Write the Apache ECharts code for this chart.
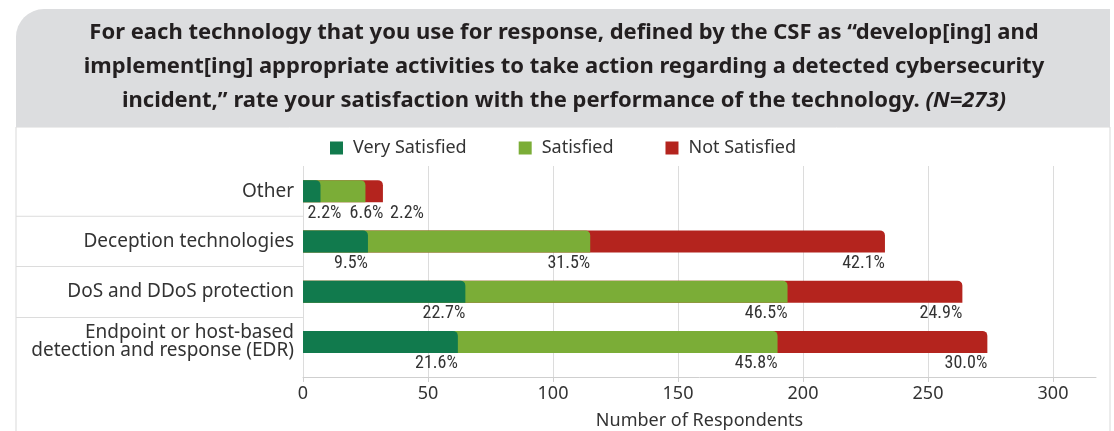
<!DOCTYPE html>
<html>
<head>
<meta charset="utf-8">
<script src="https://cdn.jsdelivr.net/npm/echarts@6/dist/echarts.min.js"></script>
<style>
html, body { margin: 0; padding: 0; background: #fff; }
#chart { width: 1114px; height: 431px; }
</style>
</head>
<body>
<div id="chart"></div>
<script>
const categories = ['Other', 'Deception technologies', 'DoS and DDoS protection', 'Endpoint or host-based\ndetection and response (EDR)']
const verySatisfied = [7, 26, 65, 62]
const satisfied = [18, 89, 129, 128]
const notSatisfied = [7, 118, 70, 84]
const veryPct = ['2.2%', '9.5%', '22.7%', '21.6%']
const satPct = ['6.6%', '31.5%', '46.5%', '45.8%']
const notPct = ['2.2%', '42.1%', '24.9%', '30.0%']
const xTicks = [0, 50, 100, 150, 200, 250, 300]

const font = "'Noto Sans', 'Open Sans', sans-serif"
const narrow = "'Liberation Sans Narrow', 'Roboto Condensed', 'Roboto', sans-serif"
const textColor = '#333'
const axisMax = 317.5 // axis line runs a bit past the last tick

// bars are drawn from 0 and overlap, so each rounded end sits on top of the next one
const cumSat = verySatisfied.map((v, i) => v + satisfied[i])
const cumAll = cumSat.map((v, i) => v + notSatisfied[i])

const makeSeries = (name, values, pcts, color, otherShift) => ({
  name,
  type: 'bar',
  xAxisIndex: 0,
  yAxisIndex: 0,
  barWidth: 22,
  barGap: '-100%',
  itemStyle: { color, borderRadius: [0, 5, 0, 0] },
  label: {
    show: true,
    position: ['100%', '100%'],
    align: 'right',
    verticalAlign: 'top',
    offset: [0, 2],
    fontFamily: narrow,
    fontSize: 18,
    color: textColor,
    formatter: (p) => pcts[p.dataIndex]
  },
  // "Other" is too short for its labels, spread them to the right
  data: values.map((v, i) => (i === 0 ? { value: v, label: { offset: [otherShift, 2] } } : v))
})

const chart = echarts.init(document.getElementById('chart'))
const option = {
  animation: false,
  graphic: [
    {
      type: 'rect',
      z: -10,
      shape: { x: 16, y: 127, width: 1094, height: 320 },
      style: { fill: '#fff', stroke: '#d9d9d9', lineWidth: 1 }
    },
    {
      type: 'rect',
      z: -9,
      shape: { x: 16, y: 9, width: 1094, height: 118, r: [28, 0, 0, 0] },
      style: { fill: '#dcdddf' }
    }
  ],
  title: {
    text: 'For each technology that you use for response, defined by the CSF as \u201cdevelop[ing] and\n' +
      'implement[ing] appropriate activities to take action regarding a detected cybersecurity\n' +
      'incident,\u201d rate your satisfaction with the performance of the technology. {it|(N=273)}',
    left: 564,
    top: 16,
    textAlign: 'center',
    padding: 0,
    textStyle: {
      fontFamily: font,
      fontSize: 22,
      fontWeight: 'bold',
      color: '#231f20',
      lineHeight: 34,
      rich: {
        it: { fontFamily: font, fontSize: 22, fontWeight: 'bold', fontStyle: 'italic', color: '#231f20', lineHeight: 34 }
      }
    }
  },
  legend: {
    data: ['Very Satisfied', 'Satisfied', 'Not Satisfied'],
    left: 330,
    top: 139,
    padding: 0,
    icon: 'rect',
    itemWidth: 13,
    itemHeight: 13,
    itemGap: 52,
    textStyle: { fontFamily: font, fontSize: 18, color: textColor, padding: [0, 0, 0, 5] }
  },
  grid: [
    { left: 303, right: 18, top: 166, height: 201, outerBoundsMode: 'none' },
    { left: 303, width: 750, top: 166, height: 211, outerBoundsMode: 'none' },
    { left: 303, right: 18, top: 166, height: 211, outerBoundsMode: 'none' }
  ],
  xAxis: [
    { gridIndex: 0, type: 'value', min: 0, max: axisMax, show: false },
    {
      gridIndex: 1,
      type: 'value',
      min: xTicks[0],
      max: xTicks[xTicks.length - 1],
      interval: xTicks[1] - xTicks[0],
      axisLine: { show: false },
      axisTick: { show: true, length: 5, lineStyle: { color: '#cfcfcf' } },
      splitLine: { show: true, lineStyle: { color: '#dcdcdc' } },
      axisLabel: { fontFamily: font, fontSize: 18, color: textColor, margin: 8 }
    },
    {
      gridIndex: 2,
      type: 'value',
      min: 0,
      max: axisMax,
      axisLine: { show: true, lineStyle: { color: '#cfcfcf' } },
      axisTick: { show: false },
      axisLabel: { show: false },
      splitLine: { show: false },
      name: 'Number of Respondents',
      nameLocation: 'middle',
      nameGap: 35,
      nameTextStyle: { fontFamily: font, fontSize: 18, color: textColor }
    }
  ],
  yAxis: [
    {
      gridIndex: 0,
      type: 'category',
      data: categories,
      inverse: true,
      axisLine: { show: false },
      axisTick: { show: false },
      axisLabel: { fontFamily: font, fontSize: 19, color: textColor, margin: 9, lineHeight: 18, padding: [4, 0, 0, 0] }
    },
    {
      // band separators on the left, drawn as minor ticks between 0 and 4
      gridIndex: 0,
      type: 'value',
      min: 0,
      max: categories.length,
      interval: categories.length,
      position: 'left',
      axisLine: { show: false },
      axisTick: { show: false },
      axisLabel: { show: false },
      splitLine: { show: false },
      minorTick: { show: true, splitNumber: categories.length, length: 287, lineStyle: { color: '#dcdcdc', width: 1 } }
    },
    { gridIndex: 1, type: 'value', show: false },
    { gridIndex: 2, type: 'value', show: false }
  ],
  series: [
    makeSeries('Not Satisfied', cumAll, notPct, '#b4241e', 41),
    makeSeries('Satisfied', cumSat, satPct, '#7bad37', 18),
    makeSeries('Very Satisfied', verySatisfied, veryPct, '#117a4d', 21)
  ]
}
chart.setOption(option)
</script>
</body>
</html>
